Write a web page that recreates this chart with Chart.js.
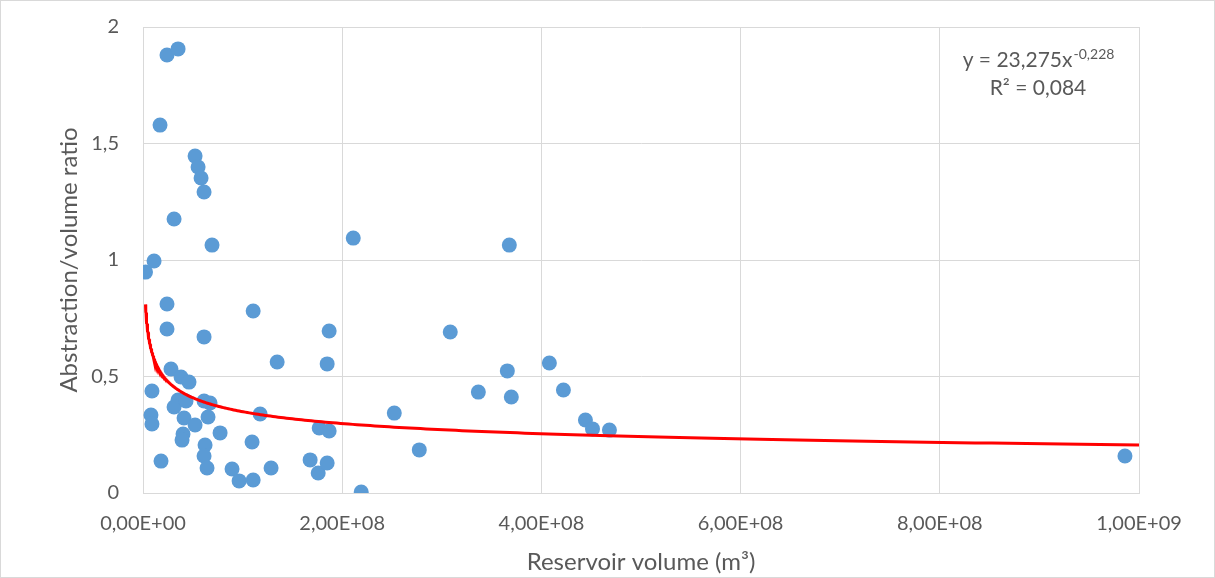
<!DOCTYPE html>
<html>
<head>
<meta charset="utf-8">
<script src="https://cdn.jsdelivr.net/npm/chart.js@4.4.0/dist/chart.umd.min.js"></script>
<style>
  body { margin: 0; background: #fff; }
  #wrap { width: 1215px; height: 578px; }
</style>
</head>
<body>
<div id="wrap"><canvas id="grafico" width="1215" height="578"></canvas></div>
<script>
// volume do reservatório em m3
const volumes = [
  2.5e6, 1.11e7, 2.41e7, 3.52e7, 1.71e7, 5.23e7, 5.53e7, 5.83e7, 6.13e7, 3.12e7,
  6.93e7, 2.111e8, 3.678e8, 2.41e7, 2.41e7, 6.13e7, 1.106e8, 1.869e8, 3.085e8, 1.347e8,
  1.849e8, 4.08e8, 3.658e8, 2.81e7, 3.82e7, 4.62e7, 9.0e6, 3.367e8, 3.698e8, 4.221e8,
  8.0e6, 9.0e6, 3.52e7, 3.12e7, 4.32e7, 6.13e7, 6.73e7, 4.12e7, 6.53e7, 5.23e7,
  4.02e7, 3.92e7, 7.74e7, 6.23e7, 6.13e7, 6.43e7, 1.81e7, 8.94e7, 9.65e7, 1.106e8,
  1.095e8, 1.176e8, 1.286e8, 1.678e8, 1.759e8, 1.849e8, 1.769e8, 1.869e8, 2.191e8, 2.523e8,
  2.774e8, 4.442e8, 4.513e8, 4.683e8, 9.859e8
];
// razão captação/volume
const razoes = [
  0.948, 0.996, 1.880, 1.906, 1.579, 1.446, 1.399, 1.352, 1.292, 1.176,
  1.064, 1.094, 1.064, 0.811, 0.704, 0.670, 0.781, 0.695, 0.691, 0.562,
  0.554, 0.558, 0.524, 0.532, 0.498, 0.476, 0.438, 0.433, 0.412, 0.442,
  0.335, 0.296, 0.399, 0.369, 0.395, 0.395, 0.386, 0.322, 0.326, 0.292,
  0.253, 0.227, 0.258, 0.206, 0.159, 0.107, 0.137, 0.103, 0.052, 0.056,
  0.219, 0.339, 0.107, 0.142, 0.086, 0.129, 0.279, 0.266, 0.004, 0.343,
  0.185, 0.313, 0.275, 0.270, 0.159
];

// linha de tendência (potência) mostrada no gráfico: y = 23,275x^-0,228
const coefA = 23.275;
const coefB = -0.228;
const fimTendencia = 1e9;
const textoEquacao = "y = 23,275x";
const textoExpoente = "-0,228";
const textoR2 = "R² = 0,084";

const ticksX = [0, 2e8, 4e8, 6e8, 8e8, 1e9];
const ticksY = [0, 0.5, 1, 1.5, 2];

const pontos = volumes.map((v, i) => ({ x: v, y: razoes[i] }));

const xMin = Math.min(...volumes);
const tendencia = [];
for (let i = 0; i <= 300; i++) {
    const x = xMin * Math.pow(fimTendencia / xMin, i / 300);
    tendencia.push({ x: x, y: coefA * Math.pow(x, coefB) });
}

const fonte = "Lato, 'Open Sans', sans-serif";
const cinza = "#595959";

function formatoX(v) {
    if (v === 0) return "0,00E+00";
    const exp = Math.floor(Math.log10(v) + 1e-9);
    const mant = (v / Math.pow(10, exp)).toFixed(2).replace(".", ",");
    return mant + "E+" + String(exp).padStart(2, "0");
}

const moldura = {
    id: "moldura",
    beforeDraw(chart) {
        const c = chart.ctx;
        c.save();
        c.fillStyle = "#fff";
        c.fillRect(0, 0, chart.width, chart.height);
        c.strokeStyle = "#d9d9d9";
        c.lineWidth = 1;
        c.strokeRect(0.5, 0.5, chart.width - 1, chart.height - 1);
        c.restore();
    },
    afterDraw(chart) {
        const c = chart.ctx;
        c.save();
        c.fillStyle = cinza;
        c.textBaseline = "alphabetic";
        c.font = "21px " + fonte;
        const w1 = c.measureText(textoEquacao).width;
        c.font = "14px " + fonte;
        const w2 = c.measureText(textoExpoente).width;
        const cx = 1038;
        let x0 = cx - (w1 + w2) / 2;
        c.font = "21px " + fonte;
        c.textAlign = "left";
        c.fillText(textoEquacao, x0, 67);
        c.font = "14px " + fonte;
        c.fillText(textoExpoente, x0 + w1 + 1, 59);
        c.font = "21px " + fonte;
        c.textAlign = "center";
        c.fillText(textoR2, cx, 95);
        c.restore();
    }
};

new Chart(document.getElementById("grafico").getContext("2d"), {
    type: "scatter",
    data: {
        datasets: [
            {
                label: "Tendência",
                data: tendencia,
                showLine: true,
                borderColor: "#FF0000",
                borderWidth: 3,
                pointRadius: 0,
                fill: false,
                order: 0
            },
            {
                label: "Reservatórios",
                data: pontos,
                backgroundColor: "#5B9BD5",
                borderWidth: 0,
                pointRadius: 7.5,
                order: 1
            }
        ]
    },
    options: {
        responsive: false,
        animation: false,
        layout: { padding: { left: 0, top: 27, right: 76, bottom: 0 } },
        plugins: { legend: { display: false }, tooltip: { enabled: false } },
        scales: {
            x: {
                type: "linear",
                min: 0,
                max: 1e9,
                afterFit(scale) { scale.height = 85; scale.paddingLeft = 0; scale.paddingRight = 0; },
                afterBuildTicks(scale) { scale.ticks = ticksX.map(v => ({ value: v })); },
                grid: { color: "#d9d9d9", lineWidth: 1, drawTicks: false },
                border: { color: "#d9d9d9" },
                ticks: {
                    padding: 19,
                    color: cinza,
                    font: { family: fonte, size: 20 },
                    maxRotation: 0,
                    callback: v => formatoX(v)
                },
                title: {
                    display: true,
                    text: "Reservoir volume (m³)",
                    color: cinza,
                    font: { family: fonte, size: 24 },
                    padding: { top: 0, bottom: 1.6 }
                }
            },
            y: {
                min: 0,
                max: 2,
                afterFit(scale) { scale.width = 143; scale.paddingTop = 0; scale.paddingBottom = 0; },
                afterBuildTicks(scale) { scale.ticks = ticksY.map(v => ({ value: v })); },
                grid: { color: "#d9d9d9", lineWidth: 1, drawTicks: false },
                border: { color: "#d9d9d9" },
                ticks: {
                    padding: 24,
                    color: cinza,
                    font: { family: fonte, size: 20 },
                    callback: v => String(v).replace(".", ",")
                },
                title: {
                    display: true,
                    text: "Abstraction/volume ratio",
                    color: cinza,
                    font: { family: fonte, size: 24 },
                    padding: { top: 55, bottom: 0 }
                }
            }
        }
    },
    plugins: [moldura]
});
</script>
</body>
</html>
